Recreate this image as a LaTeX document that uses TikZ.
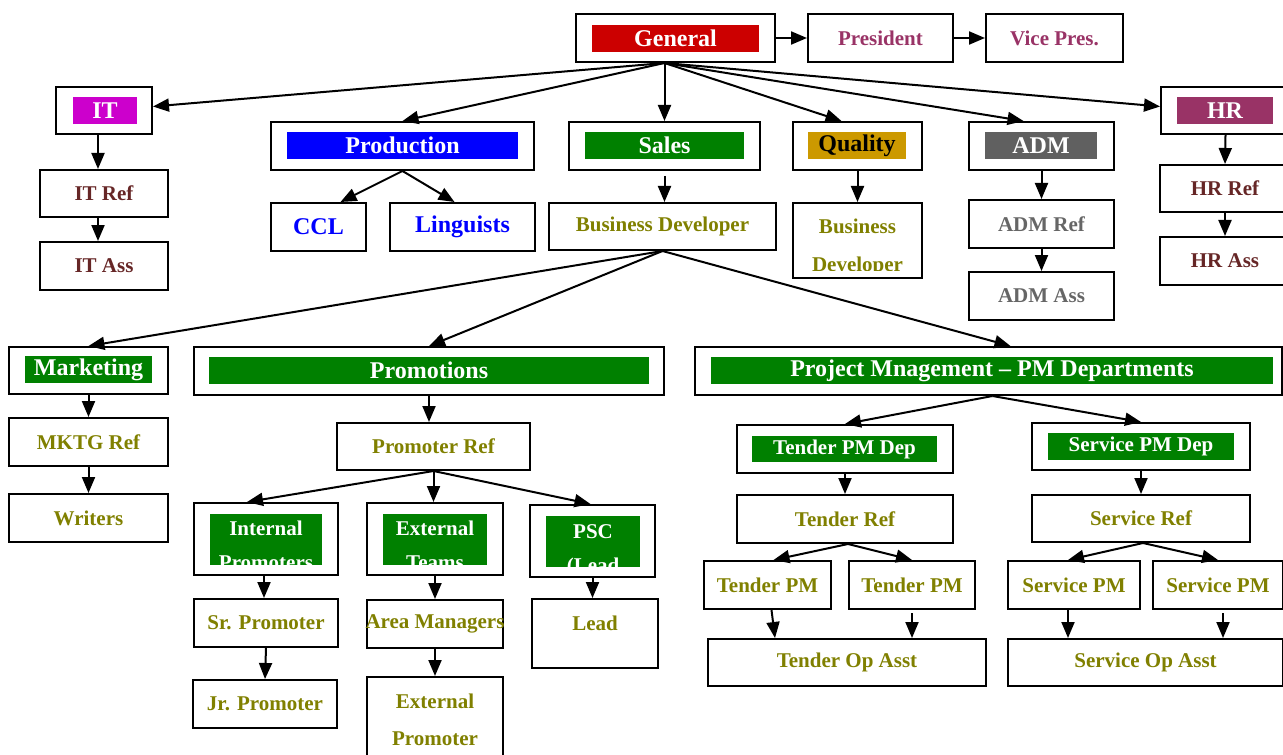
\documentclass[tikz,border=0pt]{standalone}
\usepackage{fontspec}
\setmainfont{Liberation Serif}
\usetikzlibrary{arrows.meta}

\newcommand\headfont{\fontsize{12}{14}\selectfont\bfseries}
\newcommand\subfont{\fontsize{10.5}{13}\selectfont\bfseries}

\definecolor{genred}{RGB}{204,0,0}
\definecolor{itmag}{RGB}{204,0,204}
\definecolor{prodblue}{RGB}{0,0,255}
\definecolor{salesgreen}{RGB}{0,128,0}
\definecolor{qualgold}{RGB}{204,153,0}
\definecolor{admgray}{RGB}{96,96,96}
\definecolor{plum}{RGB}{153,51,102}
\definecolor{olivetxt}{RGB}{128,128,0}
\definecolor{refbrown}{RGB}{102,38,38}
\definecolor{admtxt}{RGB}{102,102,102}

\begin{document}
\begin{tikzpicture}[x=0.5pt, y=-0.5pt,
        box/.style={draw, line width=1pt, inner sep=0pt},
        sz/.style 2 args={minimum width=#1*0.5pt, minimum height=#2*0.5pt},
        bar/.style={fill=#1, inner sep=0pt, text=white, font=\headfont},
        sub/.style={font=\subfont, text=#1},
        headtxt/.style={font=\headfont, text=#1},
        txtline/.style={anchor=base, inner sep=0pt, font=\subfont, text=#1}]
        \useasboundingbox (0,0) rectangle (1283,754);

        % top row
        \node[box, sz={199}{48}] (gen) at (675.5,38) {};
        \node[bar=genred, sz={167}{27}] (genbar) at (675.5,38.5) {General};
        \node[box, sz={145}{48}, sub=plum] (pres) at (880.5,38) {President};
        \node[box, sz={137}{48}, sub=plum] (vp) at (1054.5,38) {Vice Pres.};

        % IT
        \node[box, sz={96}{47}] (it) at (104,110.5) {};
        \node[bar=itmag, sz={64}{27}] (itbar) at (105,110.5) {IT};
        \node[box, sz={128}{47}, sub=refbrown] (itref) at (104,193.5) {IT Ref};
        \node[box, sz={128}{48}, sub=refbrown] (itass) at (104,266) {IT Ass};

        % production
        \node[box, sz={263}{48}] (prod) at (402.5,146) {};
        \node[bar=prodblue, sz={231}{27}] (prodbar) at (402.5,145.5) {Production};
        \node[box, sz={95}{48}, headtxt=prodblue] (ccl) at (318.5,227) {CCL};
        \node[box, sz={145}{48}, headtxt=prodblue] (ling) at (462.5,227) {Linguists};

        % sales
        \node[box, sz={191}{48}] (sales) at (664.5,146) {};
        \node[bar=salesgreen, sz={159}{27}] (salesbar) at (664.5,145.5) {Sales};
        \node[box, sz={227}{47}, sub=olivetxt] (bdev) at (662.5,226.5) {Business Developer};

        % quality
        \node[box, sz={129}{48}] (qual) at (857.5,146) {};
        \node[bar=qualgold, sz={98}{27}, text=black] (qualbar) at (857,145.5) {Quality};
        \node[box, sz={129}{75}] (qbd) at (857.5,240.5) {};
        \begin{scope}
                \clip (qbd.north west) rectangle (922,270);
                \node[txtline=olivetxt] (qbda) at (857.5,234) {Business};
                \node[txtline=olivetxt] (qbdb) at (857.5,271) {Developer};
        \end{scope}

        % ADM
        \node[box, sz={145}{48}] (adm) at (1041.5,146) {};
        \node[bar=admgray, sz={112}{27}] (admbar) at (1041,145.5) {ADM};
        \node[box, sz={145}{48}, sub=admtxt] (admref) at (1041.5,224) {ADM Ref};
        \node[box, sz={145}{48}, sub=admtxt] (admass) at (1041.5,296) {ADM Ass};

        % HR
        \node[box, sz={129}{47}] (hr) at (1225.5,110.5) {};
        \node[bar=plum, sz={96}{27}] (hrbar) at (1225,110.5) {HR};
        \node[box, sz={130}{47}, sub=refbrown] (hrref) at (1225,188.5) {HR Ref};
        \node[box, sz={130}{48}, sub=refbrown] (hrass) at (1225,261) {HR Ass};

        % marketing
        \node[box, sz={159}{47}] (mkt) at (88.5,370.5) {};
        \node[bar=salesgreen, sz={127}{27}] (mktbar) at (88.5,369.5) {Marketing};
        \node[box, sz={159}{48}, sub=olivetxt] (mktref) at (88.5,442) {MKTG Ref};
        \node[box, sz={159}{48}, sub=olivetxt] (writers) at (88.5,518) {Writers};

        % promotions
        \node[box, sz={470}{48}] (promo) at (429,371) {};
        \node[bar=salesgreen, sz={440}{27}] (promobar) at (429,370.5) {Promotions};
        \node[box, sz={193}{47}, sub=olivetxt] (promref) at (433.5,446.5) {Promoter Ref};

        \node[box, sz={144}{72}] (intp) at (266,539) {};
        \node[bar=salesgreen, sz={112}{51}] (intpbar) at (266,539.5) {};
        \begin{scope}
                \clip (intpbar.north west) rectangle (intpbar.south east);
                \node[txtline=white] (intpa) at (266,535) {Internal};
                \node[txtline=white] (intpb) at (266,569) {Promoters};
        \end{scope}
        \node[box, sz={136}{72}] (extt) at (435,539) {};
        \node[bar=salesgreen, sz={104}{51}] (exttbar) at (435,539.5) {};
        \begin{scope}
                \clip (exttbar.north west) rectangle (exttbar.south east);
                \node[txtline=white] (extta) at (435,535) {External};
                \node[txtline=white] (exttb) at (435,569) {Teams};
        \end{scope}
        \node[box, sz={125}{72}] (psc) at (592.5,541) {};
        \node[bar=salesgreen, sz={94}{51}] (pscbar) at (593,541.5) {};
        \begin{scope}
                \clip (pscbar.north west) rectangle (pscbar.south east);
                \node[txtline=white] (psca) at (593,538) {PSC};
                \node[txtline=white] (pscb) at (593,572) {(Lead};
        \end{scope}

        \node[box, sz={144}{48}, sub=olivetxt] (srp) at (266,623) {Sr. Promoter};
        \node[box, sz={144}{48}, sub=olivetxt] (jrp) at (265,704) {Jr. Promoter};
        \node[box, sz={136}{48}, sub=olivetxt] (aream) at (435,624) {\makebox[0pt]{Area Managers}};
        \node[box, sz={136}{123}] (extp) at (435,738.5) {};
        \node[txtline=olivetxt] (extpa) at (435,708) {External};
        \node[txtline=olivetxt] (extpb) at (435,745) {Promoter};
        \node[box, sz={126}{69}] (lead) at (595,633.5) {};
        \node[txtline=olivetxt] (leada) at (595,630) {Lead};

        % project management
        \node[box, sz={587}{48}] (pm) at (988.5,371) {};
        \node[bar=salesgreen, sz={562}{27}] (pmbar) at (992,370.5) {Project Mnagement – PM Departments};
        \node[box, sz={216}{48}] (tdep) at (845,449) {};
        \node[bar=salesgreen, sz={185}{26}, font=\subfont] (tdepbar) at (844.5,449) {Tender PM Dep};
        \node[box, sz={218}{47}] (sdep) at (1141,446.5) {};
        \node[bar=salesgreen, sz={186}{27}, font=\subfont] (sdepbar) at (1141,446.5) {Service PM Dep};
        \node[box, sz={216}{48}, sub=olivetxt] (tref) at (845,519) {Tender Ref};
        \node[box, sz={218}{47}, sub=olivetxt] (sref) at (1141,518.5) {Service Ref};
        \node[box, sz={127}{48}, sub=olivetxt] (tpma) at (767.5,585) {Tender PM};
        \node[box, sz={126}{48}, sub=olivetxt] (tpmb) at (912,585) {Tender PM};
        \node[box, sz={132}{48}, sub=olivetxt] (spma) at (1074,585) {Service PM};
        \node[box, sz={130}{48}, sub=olivetxt] (spmb) at (1218,585) {Service PM};
        \node[box, sz={278}{47}, sub=olivetxt] (tasst) at (847,662.5) {Tender Op Asst};
        \node[box, sz={275}{47}, sub=olivetxt] (sasst) at (1145.5,662.5) {Service Op Asst};

        \begin{scope}[every path/.style={line width=1pt, -{Triangle[length=8pt,width=6.5pt]}}]
                \path (gen.east) edge (pres.west);
                \path (pres.east) edge (vp.west);
                \path (gen.south -| sales.north) edge ([yshift=2pt]it.east) edge (prod.north)
                        edge (sales.north) edge ([xshift=-8pt]qual.north)
                        edge ([xshift=-9pt]adm.north) edge ([yshift=2pt]hr.west);
                \path ([xshift=-3pt]it.south) edge ([xshift=-3pt]itref.north);
                \path ([xshift=-3pt]itref.south) edge ([xshift=-3pt]itass.north);
                \path (prod.south) edge ([xshift=11pt]ccl.north) edge ([xshift=-4pt]ling.north);
                \path ([yshift=-2.5pt]sales.south) edge (sales.south |- bdev.north);
                \path (qual.south) edge (qbd.north);
                \path (adm.south) edge (admref.north);
                \path (admref.south) edge (admass.north);
                \path (hr.south) edge (hrref.north);
                \path (hrref.south) edge (hrass.north);
                \path (bdev.south) edge (mkt.north) edge (promo.north) edge ([xshift=11pt]pm.north);
                \path (mkt.south) edge (mktref.north);
                \path (mktref.south) edge (writers.north);
                \path (promo.south) edge (promo.south |- promref.north);
                \path (promref.south) edge ([xshift=-9.5pt]intp.north)
                        edge (promref.south |- extt.north) edge ([xshift=-1pt]psc.north);
                \path ([xshift=-1pt]intp.south) edge ([xshift=-1pt]srp.north);
                \path (srp.south) edge (jrp.north);
                \path (extt.south) edge (aream.north);
                \path (aream.south) edge (extp.north);
                \path (psc.south) edge (psc.south |- lead.north);
                \path ([xshift=2pt]pm.south) edge (tdep.north) edge (sdep.north);
                \path (tdep.south) edge (tref.north);
                \path (sdep.south) edge (sref.north);
                \path ([xshift=1.5pt]tref.south) edge ([xshift=3pt]tpma.north) edge (tpmb.north);
                \path ([xshift=1pt]sref.south) edge ([xshift=-3pt]spma.north) edge (spmb.north);
                \path ([xshift=2pt]tpma.south) edge ([xshift=-36pt]tasst.north);
                \path ([yshift=-1.5pt]tpmb.south) edge (tpmb.south |- tasst.north);
                \path ([xshift=-3pt]spma.south) edge ([xshift=-38.75pt]sasst.north);
                \path ([xshift=2.5pt,yshift=-1.5pt]spmb.south) edge ([xshift=38.75pt]sasst.north);
        \end{scope}
\end{tikzpicture}
\end{document}
